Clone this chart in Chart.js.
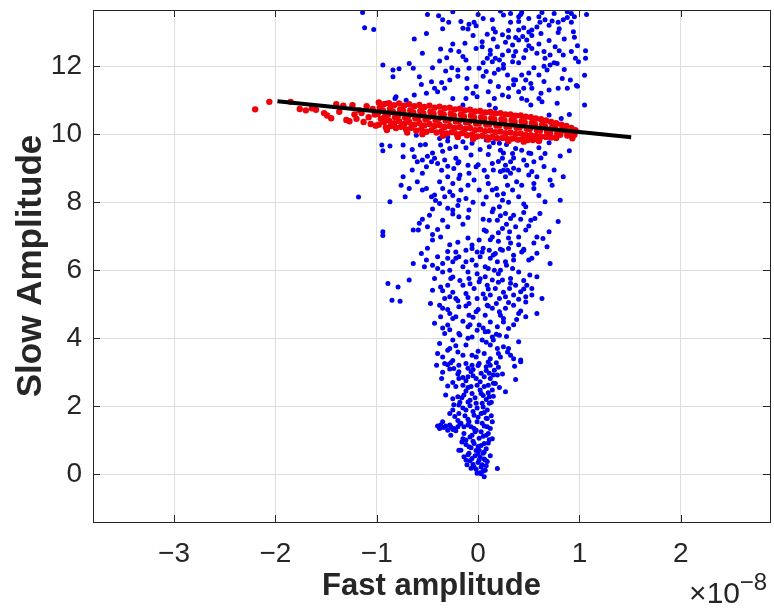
<!DOCTYPE html>
<html>
<head>
<meta charset="utf-8">
<script src="https://cdn.jsdelivr.net/npm/chart.js@4"></script>
<style>
  html, body { margin: 0; padding: 0; background: #fff; }
</style>
</head>
<body>
<canvas id="scatterChart" width="774" height="609"></canvas>
<script>
// tick labels
const xTicks = [-3, -2, -1, 0, 1, 2];
const yTicks = [0, 2, 4, 6, 8, 10, 12];

// all events: [fast amplitude (x 1e-8), slow amplitude]
const bluePts = [
  // top part
  [-1.12,13.13],[-1.03,13.08],[-1.14,13.58],[-0.50,13.52],[-0.39,13.48],[-0.35,13.36],[-0.29,13.29],[-0.17,13.31],[-0.15,13.11],[-0.09,13.23],
  [-0.04,13.29],[-0.02,13.19],[0.00,13.52],[-0.10,13.09],[0.14,13.36],[0.32,13.55],[0.42,13.52],[0.43,13.58],[0.63,13.58],[0.88,13.60],
  [0.92,13.55],[1.07,13.52],[-0.51,12.96],[-0.63,12.80],[0.09,12.94],[0.17,13.00],[0.24,12.92],[0.32,13.29],[0.40,13.31],[0.40,13.06],
  [0.45,13.13],[0.53,13.06],[0.61,13.29],[0.66,13.36],[0.73,13.33],[0.79,13.29],[0.84,13.36],[0.88,13.43],[0.92,13.29],[0.94,13.01],
  [0.79,12.99],[0.62,12.96],[0.53,12.90],[0.37,12.84],[0.40,12.77],[0.44,12.87],[0.48,12.77],[0.34,12.62],[0.27,12.70],[0.19,12.57],
  [0.04,12.72],[0.04,12.57],[-0.13,12.67],[-0.55,12.38],[-0.37,12.50],[-0.27,12.47],[-0.19,12.43],[-0.15,12.28],[-0.12,12.18],[-0.38,12.15],
  [-0.31,12.25],[-0.02,12.52],[0.12,12.47],[0.09,12.23],[0.17,12.23],[0.24,12.33],[0.30,12.45],[0.37,12.43],[0.47,12.47],[0.53,12.52],
  [0.58,12.38],[0.65,12.43],[0.66,12.23],[0.71,12.33],[0.76,12.57],[0.84,12.33],[0.92,12.43],[0.96,12.23],[1.06,12.45],[1.06,12.23],
  [0.99,12.13],[-0.94,12.03],[-0.84,11.89],[-0.84,11.69],[-0.78,11.92],[-0.68,12.08],[-0.64,11.94],[-0.58,11.69],[-0.56,11.46],[-0.46,11.54],
  [-0.36,11.52],[-0.43,11.35],[-0.28,11.59],[-0.20,11.89],[-0.26,11.95],[-0.32,11.86],[-0.09,11.94],[-0.11,11.64],[-0.11,11.35],[-0.02,11.40],
  [0.01,11.94],[0.08,11.84],[0.14,12.13],[0.16,11.79],[0.21,12.18],[0.25,11.94],[0.29,11.74],[0.34,12.13],[0.37,11.59],[0.43,11.74],
  [0.47,11.59],[0.52,11.49],[0.53,11.35],[0.45,11.35],[0.40,11.25],[0.43,11.05],[0.48,11.00],[0.52,10.86],[0.62,11.20],[0.63,10.95],
  [0.60,11.74],[0.68,11.89],[0.71,12.03],[0.78,12.08],[0.83,11.64],[0.88,11.35],[0.91,11.59],[0.97,11.43],[0.79,11.35],[0.78,10.91],
  [1.05,10.86],[0.70,10.56],[0.82,10.46],[0.90,10.58],[0.30,11.35],[0.24,11.15],[0.16,11.05],[0.11,10.86],[0.17,10.76],[-0.01,11.10],
  [-0.12,11.05],[-0.15,10.86],[-0.25,11.05],[-0.33,11.35],[-0.51,11.20],[-0.63,11.15],[-0.71,11.00],[-0.82,11.05],[-0.91,10.91],[-0.81,11.10],
  [1.05,11.73],[0.98,11.41],[0.30,11.10],[0.60,11.05],[-0.05,11.20],[0.20,11.40],[0.70,11.30],[0.35,11.60],[0.05,11.70],[0.55,11.95],
  [0.25,12.05],[0.75,12.10],[0.45,12.25],[0.12,12.35],[0.60,12.65],[0.30,12.85],[0.85,12.80],[0.50,13.00],[0.15,13.10],[0.70,13.20],
  [0.40,13.45],[0.95,13.45],[-0.25,13.60],[0.22,13.62],[0.60,13.45],
  [-0.40,11.25],[0.10,11.25],[0.35,11.45],[0.65,11.55],[-0.20,11.70],[0.50,11.80],[0.85,11.90],[0.20,11.90],[-0.45,11.95],[0.65,12.00],
  [0.05,12.10],[0.35,12.30],[0.80,12.45],[-0.25,12.65],[0.50,12.60],[0.70,12.75],[0.15,12.80],[0.95,12.85],[-0.05,12.90],[0.58,13.15],
  [0.30,13.05],[0.80,13.10],[0.05,13.40],[0.50,13.40],[0.75,13.55],[0.25,13.50],[-0.35,13.10],[0.98,12.60],[0.40,12.10],[0.12,11.55],
  // below the band, 7 - 10
  [-0.95,9.68],[-0.94,9.51],[-0.87,9.65],[-0.74,9.68],[-0.74,9.34],[-0.65,9.55],[-0.61,9.97],[-0.57,9.68],[-0.63,9.34],[-0.60,9.19],
  [-0.55,9.24],[-0.51,9.04],[-0.46,9.19],[-0.43,9.29],[-0.40,9.14],[-0.36,8.94],[-0.33,9.24],[-0.30,9.06],[-0.37,9.68],[-0.38,9.87],
  [-0.30,9.92],[-0.28,9.58],[-0.22,9.63],[-0.22,9.29],[-0.19,9.19],[-0.24,8.99],[-0.10,9.09],[-0.07,9.39],[-0.06,9.73],[-0.04,9.87],
  [-0.09,8.85],[-0.04,8.65],[-0.19,8.70],[-0.25,8.55],[-0.28,8.31],[-0.33,8.16],[-0.38,7.96],[-0.43,8.21],[-0.46,8.16],[-0.51,8.40],
  [-0.55,8.36],[-0.68,8.40],[-0.72,8.16],[-0.76,8.50],[-0.74,8.75],[-0.87,8.01],[-0.19,8.06],[-0.12,8.11],[-0.09,7.77],[-0.19,7.57],
  [-0.25,7.77],[-0.30,7.82],[-0.35,7.47],[-0.30,7.28],[-0.37,6.98],[-0.48,7.62],[-0.58,7.38],[-0.59,7.18],[-0.64,7.18],[-0.50,7.28],
  [-0.45,6.89],[-0.94,7.13],[-0.94,7.02],[-1.18,8.15],[0.08,9.83],[0.11,9.63],[0.14,9.14],[0.17,9.87],[0.21,9.73],[0.22,9.53],
  [0.24,9.29],[0.27,9.09],[0.29,8.94],[0.32,9.19],[0.34,9.43],[0.37,9.58],[0.40,9.83],[0.43,9.53],[0.45,9.24],[0.48,9.09],
  [0.52,9.43],[0.55,9.19],[0.53,8.90],[0.58,8.75],[0.61,9.83],[0.66,9.43],[0.71,8.65],[0.73,8.50],[0.81,9.36],[0.84,8.75],
  [0.90,9.51],[0.81,8.06],[0.66,8.01],[0.61,7.67],[0.56,7.52],[0.52,7.47],[0.47,7.87],[0.40,8.16],[0.34,8.36],[0.29,8.50],
  [0.24,8.06],[0.19,8.21],[0.14,8.36],[0.09,8.75],[0.06,8.94],[0.14,7.72],[0.21,7.87],[0.27,7.67],[0.32,7.52],[0.37,7.28],
  [0.31,7.13],[0.24,7.23],[0.19,7.47],[0.11,7.47],[0.06,7.18],[0.14,6.98],[0.01,6.89],[-0.06,6.74],[0.40,6.98],[0.47,7.18],
  [0.58,6.98],[0.64,6.93],[0.70,7.13],[0.79,7.43],[0.43,8.50],[0.01,8.36],[-0.02,9.04],[-0.17,8.36],[-0.38,8.60],[-0.55,8.85],
  [0.25,8.94],[0.32,8.85],[0.35,9.00],[0.27,8.75],[0.22,8.90],
  [-0.45,7.05],[0.20,7.10],[0.50,7.30],[-0.15,7.35],[0.05,7.50],[0.35,7.62],[-0.25,7.65],[0.15,7.80],[0.45,7.95],[-0.05,8.00],
  [0.25,8.25],[-0.35,8.40],[0.55,8.40],[0.10,8.55],[-0.18,8.80],[0.40,8.95],[0.00,9.10],[-0.45,9.45],[0.25,9.45],[0.60,9.60],
  [-0.12,9.60],[0.15,9.75],[0.45,9.80],[-0.30,9.80],
  [-0.40,7.20],[0.08,7.15],[0.28,7.35],[-0.10,7.55],[0.42,7.50],[-0.55,7.50],[0.22,7.60],[-0.20,7.90],[0.05,7.95],[0.30,8.00],
  [0.60,8.20],[-0.42,8.05],[0.18,8.40],[-0.10,8.50],[0.38,8.60],[-0.30,8.75],[0.50,8.80],[0.15,8.95],[-0.60,8.60],[0.65,9.05],
  [-0.20,9.15],[0.35,9.30],[-0.50,9.35],[0.10,9.40],[0.50,9.45],[-0.15,9.78],[0.28,9.70],[0.70,9.75],[-0.52,9.70],[0.02,9.55],
  [0.55,8.55],[-0.25,8.20],[0.45,7.70],[0.75,8.95],[-0.65,8.95],[0.20,9.20],[-0.35,9.50],[0.62,9.30],[0.08,8.15],[-0.45,7.80],
  // 3.3 - 7
  [-0.89,5.61],[-0.79,5.51],[-0.68,5.71],[-0.85,5.12],[-0.77,5.09],[-0.64,6.20],[-0.56,6.49],[-0.51,6.30],[-0.53,6.10],[-0.45,6.15],
  [-0.35,6.20],[-0.30,6.35],[-0.25,6.25],[-0.22,6.54],[-0.19,6.40],[-0.12,6.59],[-0.06,6.64],[-0.01,6.54],[-0.06,6.30],[-0.15,6.10],
  [-0.28,6.00],[-0.27,5.76],[-0.30,5.56],[-0.37,5.51],[-0.43,5.76],[-0.45,5.41],[-0.33,5.17],[-0.28,5.22],[-0.22,5.17],[-0.47,5.02],
  [-0.38,4.97],[-0.35,4.88],[-0.28,4.73],[-0.37,4.63],[-0.43,4.44],[-0.30,4.39],[-0.22,4.63],[-0.19,4.93],[-0.12,5.32],[-0.15,5.56],
  [-0.09,5.76],[-0.01,5.90],[-0.10,5.95],[-0.04,5.46],[-0.09,5.02],[-0.01,5.17],[-0.02,4.78],[-0.09,4.68],[-0.10,4.34],[-0.19,4.14],
  [-0.25,3.95],[-0.33,4.14],[-0.38,3.85],[-0.30,3.65],[-0.35,3.45],[-0.20,3.60],[-0.12,3.80],[-0.06,4.04],[-0.01,4.24],[-0.06,3.50],
  [0.04,6.54],[0.11,6.59],[0.17,6.49],[0.24,6.59],[0.30,6.64],[0.35,6.44],[0.27,6.25],[0.19,6.25],[0.12,6.35],[0.07,6.10],
  [0.16,6.00],[0.22,6.00],[0.34,6.05],[0.43,6.54],[0.53,6.35],[0.45,6.59],[0.68,6.69],[0.71,6.20],[0.07,5.81],[0.14,5.71],
  [0.09,5.56],[0.17,5.46],[0.24,5.71],[0.32,5.76],[0.37,5.56],[0.31,5.46],[0.27,5.22],[0.21,5.17],[0.12,5.27],[0.07,5.17],
  [0.35,5.27],[0.42,5.37],[0.47,5.22],[0.51,5.86],[0.48,5.56],[0.58,5.81],[0.53,5.46],[0.63,5.17],[0.53,5.27],[0.47,5.07],
  [0.40,4.73],[0.47,4.63],[0.58,4.73],[0.35,4.97],[0.27,4.88],[0.21,4.78],[0.14,4.88],[0.07,4.68],[0.12,4.48],[0.19,4.34],
  [0.25,4.48],[0.30,4.29],[0.21,4.09],[0.14,4.04],[0.07,4.19],[0.04,3.95],[0.12,3.80],[0.19,3.70],[0.25,3.75],[0.29,3.60],
  [0.32,3.50],[0.22,3.45],[0.12,3.40],[0.06,3.55],[0.42,3.36],[0.01,4.39],[0.09,4.97],[0.01,5.66],
  [-0.25,3.35],[0.10,3.30],[0.35,3.40],[-0.15,3.50],[0.00,3.62],[0.30,3.70],[-0.22,3.78],[0.08,3.88],[0.40,3.90],[-0.10,4.00],
  [0.18,4.12],[-0.28,4.25],[0.05,4.30],[0.35,4.40],[-0.15,4.50],[0.25,4.58],[-0.05,4.62],[0.42,4.80],[-0.30,4.85],[0.10,4.95],
  [0.30,5.05],[-0.20,5.10],[0.05,5.30],[0.25,5.35],[-0.35,5.40],[0.45,5.45],[-0.08,5.60],[0.20,5.65],[-0.25,5.80],[0.40,5.95],
  [0.10,6.05],[-0.40,6.05],[0.28,6.15],[-0.12,6.25],[0.50,6.30],[0.02,6.40],[-0.30,6.55],[0.22,6.62],[0.40,6.75],[-0.20,6.82],
  [0.12,6.90],[0.30,6.95],
  [-0.40,3.55],[-0.02,3.45],[0.20,3.55],[-0.28,3.70],[0.15,3.95],[-0.18,4.10],[0.28,4.05],[-0.35,4.30],[0.10,4.20],[-0.08,4.40],
  [0.22,4.68],[-0.25,4.58],[0.38,4.55],[0.00,4.85],[-0.12,4.95],[0.18,5.02],[0.40,5.15],[-0.10,5.20],[0.10,5.45],[-0.25,5.35],
  [0.32,5.62],[-0.18,5.70],[0.02,5.75],[0.45,5.70],[-0.35,5.95],[0.20,5.90],[-0.02,6.15],[0.35,6.30],[-0.22,6.35],[0.15,6.45],
  [0.58,6.50],[-0.40,6.40],[0.05,6.65],[0.32,6.80],[-0.10,6.95],[0.55,6.80],[-0.28,6.75],[0.20,6.85],[0.45,6.62],[-0.50,6.65],
  // 0 - 3.3
  [-0.41,3.21],[-0.33,3.26],[-0.27,3.28],[-0.24,3.11],[-0.19,3.21],[-0.12,3.26],[-0.06,3.21],[0.01,3.26],[0.08,3.16],[0.12,3.21],
  [0.16,3.06],[0.19,2.92],[0.17,2.67],[0.14,2.48],[0.11,2.28],[0.11,2.09],[0.09,1.89],[0.09,1.64],[0.09,1.40],[0.08,1.15],
  [0.06,0.91],[0.06,0.66],[0.07,0.42],[0.07,0.12],[0.06,-0.07],[-0.01,0.03],[-0.04,0.22],[-0.06,0.47],[-0.09,0.62],[-0.12,0.42],
  [-0.14,0.52],[-0.09,0.81],[-0.04,0.91],[0.01,0.71],[0.01,0.42],[0.03,0.22],[-0.17,0.71],[-0.12,1.01],[-0.06,1.15],[0.01,1.06],
  [-0.02,1.30],[-0.07,1.40],[-0.14,1.40],[-0.20,1.40],[-0.27,1.40],[-0.32,1.42],[-0.37,1.45],[-0.38,1.35],[-0.35,1.55],[-0.30,1.30],
  [-0.24,1.35],[-0.17,1.50],[-0.09,1.55],[-0.01,1.55],[0.04,1.50],[0.03,1.25],[-0.27,1.15],[-0.19,0.71],[-0.28,1.79],[-0.25,1.89],
  [-0.19,1.79],[-0.12,1.89],[-0.04,1.74],[0.03,1.79],[-0.19,2.04],[-0.10,2.13],[-0.02,2.09],[0.04,2.09],[-0.20,2.28],[-0.14,2.33],
  [-0.06,2.38],[0.03,2.38],[-0.32,2.33],[-0.22,2.58],[-0.15,2.62],[-0.07,2.58],[-0.01,2.62],[0.06,2.58],[-0.19,2.82],[-0.10,2.87],
  [-0.02,2.82],[0.06,2.87],[0.12,2.82],[-0.19,3.02],[-0.07,3.02],[0.03,2.97],[0.11,2.97],[0.27,2.43],[0.37,2.79],[0.36,3.18],
  [0.42,3.31],[0.19,0.17],
  [0.02,0.05],[0.05,0.10],[-0.02,0.15],[0.04,0.28],[0.00,0.35],[-0.05,0.30],[0.08,0.25],[-0.08,0.40],[0.06,0.45],[0.02,0.50],
  [-0.03,0.55],[0.09,0.38],[-0.10,0.58],[0.05,0.62],[-0.02,0.70],[0.08,0.75],[-0.07,0.78],[0.03,0.85],[-0.12,0.88],[0.10,0.92],
  [-0.05,0.97],[0.00,0.60],[-0.15,1.05],[-0.08,1.10],[0.05,1.12],[0.10,1.20],[-0.03,1.25],[-0.22,1.28],[0.12,1.35],[-0.10,1.45],
  [0.06,1.42],[-0.28,1.45],[-0.18,1.48],[-0.34,1.38],[-0.25,1.32],[-0.40,1.42],[-0.20,1.58],[-0.10,1.62],[0.08,1.65],[0.13,1.72],
  [-0.05,1.85],[-0.15,1.95],[0.05,1.98],[-0.23,1.70],[0.00,1.68],[-0.18,2.12],[-0.08,2.18],[0.08,2.20],[0.15,2.30],[-0.12,2.45],
  [0.02,2.48],[-0.25,2.22],[0.10,2.40],[-0.03,2.25],[-0.25,2.70],[-0.12,2.75],[0.02,2.72],[0.15,2.68],[-0.20,2.95],[-0.05,2.90],
  [0.08,3.05],[-0.28,3.10],[-0.10,3.12],[0.20,3.15],[0.00,3.20],[-0.35,3.00],
  [-0.16,0.95],[0.11,1.02],[-0.04,1.35],[0.14,1.55],[-0.13,1.72],[0.06,1.82],[-0.08,2.02],[0.13,2.12],[-0.16,2.25],[0.05,2.32],
  [-0.10,2.55],[0.10,2.62],[-0.30,2.60],[-0.15,2.85],[0.15,2.92],[-0.05,3.08],[0.18,3.28],[-0.30,3.22],[0.00,0.82],[-0.07,0.18],
  [0.03,0.02],[-0.11,0.28],[0.12,0.55],[-0.14,1.20],[0.14,1.05],[-0.01,1.95],[-0.24,2.05],[0.21,2.55],[-0.36,2.82],[0.24,2.95]
];

// selected events (red band)
const redPts = [
  [-2.20,10.73],[-2.06,10.95],[-1.85,10.95],[-1.76,10.74],[-1.70,10.70],[-1.64,10.76],[-1.60,10.72],[-1.52,10.62],[-1.49,10.55],[-1.45,10.47],
  [-1.40,10.88],[-1.37,10.66],[-1.33,10.84],[-1.30,10.42],[-1.27,10.38],[-1.24,10.85],[-1.22,10.58],[-1.20,10.45],[-1.17,10.70],[-1.15,10.62],
  [-1.13,10.36],[-1.10,10.82],[-1.08,10.50],[-1.06,10.30],[-1.04,10.74],[-1.02,10.58],[-1.01,10.25],
  [-0.98,10.93],[-0.97,10.78],[-0.99,10.60],[-0.96,10.45],[-0.98,10.28],
  [-0.93,10.88],[-0.94,10.70],[-0.92,10.52],[-0.93,10.36],[-0.91,10.20],
  [-0.88,10.91],[-0.87,10.74],[-0.89,10.57],[-0.88,10.40],[-0.86,10.24],
  [-0.83,10.85],[-0.84,10.66],[-0.82,10.50],[-0.83,10.32],[-0.81,10.18],
  [-0.78,10.90],[-0.77,10.72],[-0.79,10.55],[-0.78,10.38],[-0.76,10.22],
  [-0.73,10.84],[-0.74,10.68],[-0.72,10.48],[-0.73,10.30],[-0.71,10.14],
  [-0.68,10.88],[-0.67,10.70],[-0.69,10.53],[-0.68,10.36],[-0.66,10.19],
  [-0.63,10.82],[-0.64,10.64],[-0.62,10.47],[-0.63,10.28],[-0.61,10.10],
  [-0.58,10.86],[-0.57,10.68],[-0.59,10.50],[-0.58,10.33],[-0.56,10.15],
  [-0.53,10.80],[-0.54,10.62],[-0.52,10.44],[-0.53,10.26],[-0.51,10.07],
  [-0.48,10.84],[-0.47,10.66],[-0.49,10.48],[-0.48,10.30],[-0.46,10.12],
  [-0.43,10.78],[-0.44,10.60],[-0.42,10.42],[-0.43,10.24],[-0.41,10.05],
  [-0.38,10.81],[-0.37,10.63],[-0.39,10.45],[-0.38,10.27],[-0.36,10.09],
  [-0.33,10.76],[-0.34,10.58],[-0.32,10.40],[-0.33,10.21],[-0.31,10.02],
  [-0.28,10.78],[-0.27,10.60],[-0.29,10.42],[-0.28,10.24],[-0.26,10.06],
  [-0.23,10.73],[-0.24,10.55],[-0.22,10.37],[-0.23,10.18],[-0.21,10.00],
  [-0.18,10.75],[-0.17,10.57],[-0.19,10.39],[-0.18,10.21],[-0.16,10.03],
  [-0.13,10.70],[-0.14,10.52],[-0.12,10.34],[-0.13,10.15],[-0.11,9.97],
  [-0.08,10.72],[-0.07,10.54],[-0.09,10.36],[-0.08,10.18],[-0.06,9.99],
  [-0.03,10.67],[-0.04,10.49],[-0.02,10.31],[-0.03,10.12],[-0.01,9.93],
  [0.02,10.68],[0.03,10.50],[0.01,10.32],[0.02,10.14],[0.04,9.95],
  [0.07,10.64],[0.06,10.46],[0.08,10.28],[0.07,10.09],[0.09,9.90],
  [0.12,10.65],[0.13,10.47],[0.11,10.29],[0.12,10.11],[0.14,9.92],
  [0.17,10.61],[0.16,10.43],[0.18,10.25],[0.17,10.06],[0.19,9.88],
  [0.22,10.62],[0.23,10.44],[0.21,10.26],[0.22,10.08],[0.24,9.89],
  [0.27,10.58],[0.26,10.40],[0.28,10.22],[0.27,10.03],[0.29,9.86],
  [0.32,10.58],[0.33,10.41],[0.31,10.23],[0.32,10.05],[0.34,9.87],
  [0.37,10.54],[0.36,10.37],[0.38,10.19],[0.37,10.01],[0.39,9.84],
  [0.42,10.55],[0.43,10.38],[0.41,10.20],[0.42,10.02],[0.44,9.85],
  [0.47,10.51],[0.46,10.34],[0.48,10.16],[0.47,9.98],[0.49,9.83],
  [0.52,10.50],[0.53,10.33],[0.51,10.15],[0.52,9.97],[0.54,9.83],
  [0.57,10.46],[0.56,10.29],[0.58,10.12],[0.57,9.95],[0.59,9.84],
  [0.62,10.44],[0.63,10.27],[0.61,10.10],[0.62,9.93],
  [0.67,10.40],[0.66,10.23],[0.68,10.07],[0.67,9.92],
  [0.72,10.36],[0.73,10.20],[0.71,10.04],[0.72,9.90],
  [0.77,10.32],[0.76,10.17],[0.78,10.01],[0.77,9.89],
  [0.82,10.28],[0.83,10.13],[0.81,9.98],
  [0.87,10.24],[0.86,10.10],[0.88,9.96],
  [0.92,10.18],[0.91,10.03],[0.93,9.88],
  [0.96,10.12],[0.95,9.98],
  // ragged lower edge
  [-0.90,10.12],[-0.70,10.05],[-0.55,10.00],[-0.35,9.95],[-0.20,9.92],[-0.05,9.86],[0.10,9.84],[0.30,9.80],[0.45,9.78],[0.60,9.80]
];

// fitted line end points
const fitX = [-1.98, 1.51];
const fitY = [10.97, 9.91];

const fontFamily = '"Liberation Sans", Arial, Helvetica, sans-serif';
const textColor = '#262626';

const toXY = pts => pts.map(p => ({ x: p[0], y: p[1] }));
const fmt = v => (v < 0 ? '\u2212' + (-v) : String(v));

// box, inner tick marks and the x10^-8 multiplier, like matlab draws them
const frame = {
  id: 'frame',
  afterDraw(chart) {
    const { ctx, chartArea: a, scales } = chart;
    ctx.save();
    ctx.strokeStyle = textColor;
    ctx.lineWidth = 1;
    ctx.strokeRect(a.left + 0.5, a.top + 0.5, a.right - a.left, a.bottom - a.top);
    ctx.beginPath();
    xTicks.forEach(v => {
      const px = Math.round(scales.x.getPixelForValue(v)) + 0.5;
      ctx.moveTo(px, a.top); ctx.lineTo(px, a.top + 7);
      ctx.moveTo(px, a.bottom); ctx.lineTo(px, a.bottom - 7);
    });
    yTicks.forEach(v => {
      const py = Math.round(scales.y.getPixelForValue(v)) + 0.5;
      ctx.moveTo(a.left, py); ctx.lineTo(a.left + 7, py);
      ctx.moveTo(a.right, py); ctx.lineTo(a.right - 7, py);
    });
    ctx.stroke();

    ctx.fillStyle = textColor;
    ctx.textBaseline = 'alphabetic';
    ctx.textAlign = 'right';
    ctx.font = '24px ' + fontFamily;
    ctx.fillText('\u22128', a.right - 3, 590);
    ctx.font = '30px ' + fontFamily;
    ctx.fillText('\u00d710', a.right - 30, 603);
    ctx.restore();
  }
};

const ctx = document.getElementById('scatterChart').getContext('2d');
new Chart(ctx, {
  type: 'scatter',
  data: {
    datasets: [
      {
        label: 'Fit',
        type: 'line',
        data: fitX.map((x, i) => ({ x: x, y: fitY[i] })),
        borderColor: '#000000',
        borderWidth: 4,
        pointRadius: 0,
        order: 0
      },
      {
        label: 'Selected',
        data: toXY(redPts),
        backgroundColor: '#f00008',
        borderWidth: 0,
        pointRadius: 3.2,
        order: 1
      },
      {
        label: 'All',
        data: toXY(bluePts),
        backgroundColor: '#0000f0',
        borderWidth: 0,
        pointRadius: 2.5,
        order: 2
      }
    ]
  },
  options: {
    responsive: false,
    animation: false,
    events: [],
    layout: { padding: { top: 10, right: 1, left: 0, bottom: 0 } },
    plugins: {
      legend: { display: false },
      tooltip: { enabled: false }
    },
    scales: {
      x: {
        type: 'linear',
        min: -3.8,
        max: 2.88,
        afterBuildTicks: s => { s.ticks = xTicks.map(v => ({ value: v })); },
        afterFit: s => { s.height = 87; s.paddingLeft = 0; s.paddingRight = 0; },
        grid: { color: '#dedede', drawTicks: false },
        border: { display: false },
        ticks: {
          padding: 15,
          color: textColor,
          font: { family: fontFamily, size: 28 },
          callback: fmt
        },
        title: {
          display: true,
          text: 'Fast amplitude',
          color: textColor,
          font: { family: fontFamily, size: 31, weight: 'bold' },
          padding: { top: 0, bottom: 4 }
        }
      },
      y: {
        type: 'linear',
        min: -1.4,
        max: 13.65,
        afterBuildTicks: s => { s.ticks = yTicks.map(v => ({ value: v })); },
        afterFit: s => { s.width = 93; s.paddingTop = 0; s.paddingBottom = 0; },
        grid: { color: '#dedede', drawTicks: false },
        border: { display: false },
        ticks: {
          padding: 11,
          color: textColor,
          font: { family: fontFamily, size: 28 },
          callback: fmt
        },
        title: {
          display: true,
          text: 'Slow Amplitude',
          color: textColor,
          font: { family: fontFamily, size: 35, weight: 'bold' },
          padding: { top: 10, bottom: 0 }
        }
      }
    }
  },
  plugins: [frame]
});
</script>
</body>
</html>
